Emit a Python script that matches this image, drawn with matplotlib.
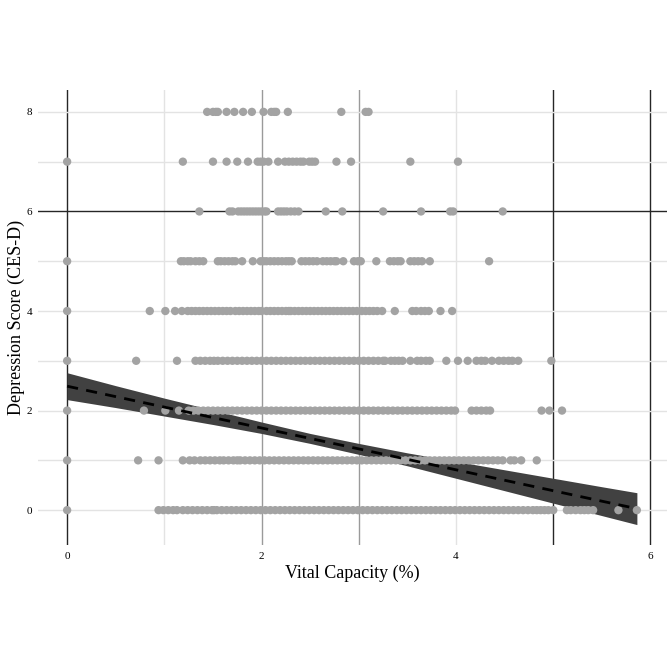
import matplotlib
matplotlib.use("Agg")
import matplotlib.pyplot as plt

# depression score levels and vital capacity of each respondent
x_y0 = [0, 0.94, 0.99, 1.04, 1.09, 1.13, 1.19, 1.24, 1.29, 1.34, 1.39, 1.44, 1.49, 1.51,
        1.54, 1.59, 1.64, 1.69, 1.74, 1.79, 1.84, 1.89, 1.94, 1.99, 2.04, 2.09, 2.14, 2.19,
        2.24, 2.29, 2.34, 2.39, 2.44, 2.49, 2.54, 2.59, 2.64, 2.69, 2.74, 2.79, 2.84, 2.89,
        2.94, 2.99, 3.04, 3.09, 3.14, 3.19, 3.24, 3.29, 3.34, 3.39, 3.44, 3.49, 3.54, 3.59,
        3.64, 3.69, 3.74, 3.79, 3.84, 3.89, 3.94, 3.99, 4.04, 4.09, 4.14, 4.19, 4.24, 4.29,
        4.34, 4.39, 4.44, 4.49, 4.54, 4.59, 4.64, 4.69, 4.74, 4.79, 4.83,
        4.87, 4.91, 4.95, 5.00, 5.14, 5.18, 5.23, 5.28, 5.32, 5.36, 5.41, 5.67, 5.86]
x_y1 = [0, 0.73, 0.94, 1.19, 1.26, 1.31, 1.37, 1.42, 1.47, 1.52, 1.57, 1.61, 1.66, 1.71,
        1.75, 1.78, 1.83, 1.88, 1.93, 1.98, 2.03, 2.08, 2.13, 2.18, 2.23, 2.28, 2.33, 2.38,
        2.43, 2.48, 2.53, 2.58, 2.63, 2.68, 2.73, 2.78, 2.83, 2.88, 2.93, 2.98, 3.03, 3.08,
        3.13, 3.18, 3.23, 3.28, 3.33, 3.38, 3.43, 3.48, 3.53, 3.58, 3.63, 3.68, 3.73, 3.78,
        3.83, 3.88, 3.93, 3.98, 4.03, 4.08, 4.13, 4.18, 4.23, 4.28, 4.33, 4.38, 4.43, 4.48,
        4.56, 4.60, 4.67, 4.83]
x_y2 = [0, 0.79, 1.01, 1.15, 1.25, 1.30, 1.35, 1.40, 1.45, 1.50, 1.55, 1.60, 1.65, 1.70,
        1.75, 1.80, 1.85, 1.90, 1.95, 2.00, 2.05, 2.10, 2.15, 2.20, 2.25, 2.30, 2.35, 2.40,
        2.45, 2.50, 2.55, 2.60, 2.65, 2.70, 2.75, 2.80, 2.85, 2.90, 2.95, 3.00, 3.05, 3.10,
        3.15, 3.20, 3.25, 3.30, 3.35, 3.40, 3.45, 3.50, 3.55, 3.60, 3.65, 3.70, 3.75, 3.80,
        3.85, 3.90, 3.95, 3.99, 4.16, 4.21, 4.26, 4.31, 4.35, 4.88, 4.96, 5.09]
x_y3 = [0, 0.71, 1.13, 1.32, 1.37, 1.42, 1.47, 1.51, 1.55, 1.60, 1.65, 1.70, 1.75, 1.80,
        1.85, 1.90, 1.95, 2.00, 2.05, 2.10, 2.15, 2.20, 2.25, 2.30, 2.35, 2.40, 2.45, 2.50,
        2.55, 2.60, 2.65, 2.70, 2.75, 2.80, 2.85, 2.90, 2.95, 3.00, 3.05, 3.10, 3.15, 3.20,
        3.25, 3.27, 3.33, 3.37, 3.41, 3.45, 3.53, 3.60, 3.64, 3.69, 3.73, 3.90, 4.02, 4.12,
        4.21, 4.26, 4.30, 4.37, 4.44, 4.49, 4.54, 4.58, 4.64, 4.98]
x_y4 = [0, 0.85, 1.01, 1.11, 1.18, 1.24, 1.28, 1.32, 1.36, 1.40, 1.44, 1.48, 1.52, 1.56,
        1.60, 1.64, 1.68, 1.73, 1.77, 1.81, 1.85, 1.89, 1.93, 1.97, 2.00, 2.05, 2.09, 2.13,
        2.17, 2.21, 2.25, 2.28, 2.30, 2.34, 2.38, 2.42, 2.46, 2.50, 2.54, 2.58, 2.62, 2.66,
        2.70, 2.74, 2.78, 2.82, 2.86, 2.90, 2.94, 2.98, 3.03, 3.07, 3.11, 3.15, 3.19, 3.24,
        3.37, 3.55, 3.59, 3.64, 3.68, 3.72, 3.84, 3.96]
x_y5 = [0, 1.17, 1.20, 1.24, 1.27, 1.32, 1.36, 1.40, 1.55, 1.58, 1.62, 1.66, 1.70, 1.73,
        1.80, 1.91, 1.99, 2.02, 2.05, 2.09, 2.13, 2.17, 2.21, 2.25, 2.28, 2.31, 2.41, 2.45,
        2.49, 2.53, 2.57, 2.63, 2.67, 2.71, 2.75, 2.77, 2.84, 2.95, 2.99, 3.02, 3.18, 3.32,
        3.36, 3.40, 3.43, 3.53, 3.57, 3.61, 3.65, 3.73, 4.34]
x_y6 = [1.36, 1.67, 1.70, 1.76, 1.79, 1.82, 1.85, 1.88, 1.91, 1.94, 1.97, 2.00, 2.03,
        2.05, 2.17, 2.20, 2.23, 2.26, 2.30, 2.34, 2.38, 2.66, 2.83, 3.25, 3.64, 3.94, 3.97,
        4.48]
x_y7 = [0, 1.19, 1.50, 1.64, 1.75, 1.86, 1.96, 1.99, 2.02, 2.07, 2.17, 2.24, 2.28, 2.32,
        2.36, 2.40, 2.43, 2.49, 2.52, 2.55, 2.77, 2.92, 3.53, 4.02]
x_y8 = [1.44, 1.50, 1.53, 1.55, 1.64, 1.72, 1.81, 1.90, 2.02, 2.10, 2.13, 2.15, 2.27,
        2.82, 3.07, 3.10]

levels = [0, 1, 2, 3, 4, 5, 6, 7, 8]
xs_by_level = [x_y0, x_y1, x_y2, x_y3, x_y4, x_y5, x_y6, x_y7, x_y8]

# linear fit with its confidence band
fit_x = [0, 0.5, 1.0, 1.5, 2.0, 2.5, 3.0, 3.5, 4.0, 4.5, 5.0, 5.5, 5.86]
fit_y = [2.49, 2.28, 2.07, 1.86, 1.65, 1.44, 1.23, 1.02, 0.81, 0.60, 0.39, 0.18, 0.03]
fit_lo = [2.22, 2.06, 1.89, 1.72, 1.54, 1.34, 1.12, 0.89, 0.64, 0.39, 0.14, -0.11, -0.29]
fit_hi = [2.76, 2.50, 2.25, 2.01, 1.77, 1.54, 1.34, 1.15, 0.98, 0.81, 0.64, 0.47, 0.35]

plt.rcParams['font.family'] = ['Liberation Serif', 'DejaVu Serif']

fig = plt.figure(figsize=(6.72, 6.71), dpi=100)
ax = fig.add_axes([0.0565, 0.1878, 0.9361, 0.6781])

# odd-looking grid: some lines are dark, some mid gray, some light
light = "#e3e3e3"
mid = "#9a9a9a"
dark = "#262626"
vcols = {0: dark, 1: light, 2: mid, 3: mid, 4: light, 5: dark, 6: dark}
for xv, c in vcols.items():
    ax.axvline(xv, color=c, lw=1.0, zorder=0)
for yv in levels:
    ax.axhline(yv, color=dark if yv == 6 else light, lw=1.0, zorder=0)

ax.fill_between(fit_x, fit_lo, fit_hi, color="#414141", lw=0, zorder=1)

for lvl, xs in zip(levels, xs_by_level):
    ax.scatter(xs, [lvl] * len(xs), s=36, color="#a3a3a3", edgecolors="none", zorder=2)

ax.plot(fit_x, fit_y, color="black", lw=2.0, ls=(0, (4, 3)), zorder=3)

ax.set_xlim(-0.30, 6.17)
ax.set_ylim(-0.70, 8.44)
ax.set_xticks([0, 2, 4, 6])
ax.set_yticks([0, 2, 4, 6, 8])
ax.tick_params(length=0, labelsize=8, pad=5)
ax.tick_params(axis="y", pad=4)
for s in ax.spines.values():
    s.set_visible(False)

ax.set_xlabel("Vital Capacity (%)", fontsize=13, labelpad=3)
ax.set_ylabel("Depression Score (CES-D)", fontsize=13, labelpad=1)

fig.savefig("out.png", dpi=100, facecolor="white")
